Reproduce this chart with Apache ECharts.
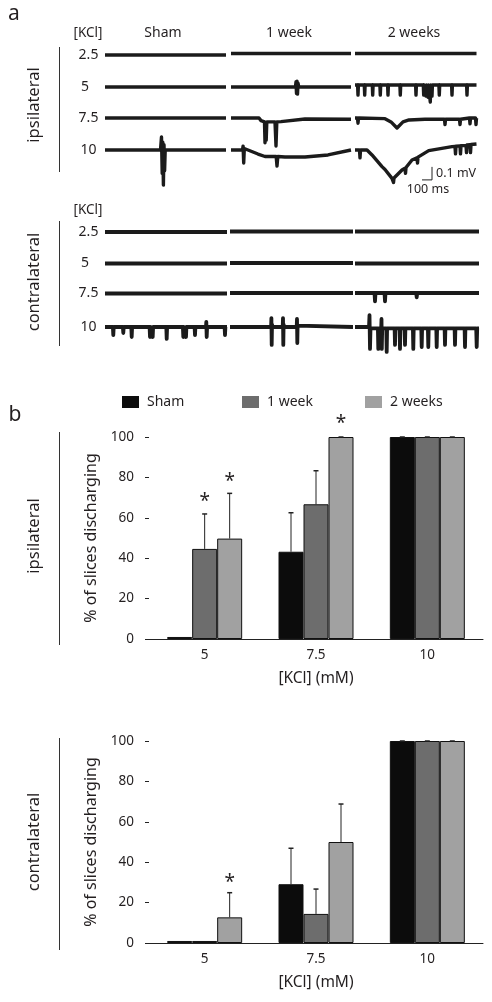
<!DOCTYPE html>
<html><head><meta charset="utf-8">
<script src="https://cdn.jsdelivr.net/npm/echarts@6/dist/echarts.min.js"></script>
<style>html,body{margin:0;padding:0;background:#fff}#c{width:492px;height:1002px}</style>
</head><body><div id="c"></div><script>
// ---------- DATA ----------
const groups = ['Sham', '1 week', '2 weeks'];
const kclRows = ['2.5', '5', '7.5', '10'];
const kclBars = ['5', '7.5', '10'];

// panel b: % of slices discharging (mean) and upper error (SEM)
const ipsiSham = [1, 43.2, 100];
const ipsiShamErr = [null, 19.3, 0];
const ipsi1wk = [44.6, 66.7, 100];
const ipsi1wkErr = [17.3, 16.6, 0];
const ipsi2wk = [49.7, 100, 100];
const ipsi2wkErr = [22.4, 0, 0];
const contraSham = [1, 29.1, 100];
const contraShamErr = [null, 17.8, 0];
const contra1wk = [1, 14.4, 100];
const contra1wkErr = [null, 12.3, 0];
const contra2wk = [12.7, 50, 100];
const contra2wkErr = [12.2, 18.8, 0];
// significance marks: [category index, group index, y position in %]
const ipsiStars = [[0, 1, 70], [0, 2, 80], [1, 2, 108.5]];
const contraStars = [[0, 2, 31.7]];

// panel a: traces, [time ms, potential mV]
const ipsiSham25 = [[0, 0], [1210, 0]];
const ipsiSham5 = [[0, 0], [1210, 0]];
const ipsiSham75 = [[0, 0], [1210, 0]];
const ipsiSham10 = [[0, 0], [555, 0], [565, 0.1], [572, -0.18], [578, 0.06], [584, -0.27], [590, 0.04], [596, -0.16], [602, 0], [1210, 0]];
const ipsi1wk25 = [[0, 0.012], [1200, 0.012]];
const ipsi1wk5 = [[0, 0], [645, 0], [650, 0.04], [655, -0.05], [660, 0.045], [665, -0.055], [670, 0.03], [678, 0], [1200, 0]];
const ipsi1wk75 = [[0, 0], [280, 0], [300, -0.02], [335, -0.03], [340, -0.19], [346, -0.04], [352, -0.17], [358, -0.03], [440, -0.03], [450, -0.215], [458, -0.03], [500, -0.028], [740, -0.008], [1200, -0.01]];
const ipsi1wk10 = [[0, 0], [115, 0], [121, 0.03], [127, -0.1], [133, 0.01], [170, 0], [270, -0.031], [340, -0.05], [452, -0.05], [460, -0.123], [468, -0.05], [540, -0.054], [740, -0.054], [970, -0.038], [1200, 0]];
const ipsi2wk25 = [[0, 0.012], [1215, 0.012]];
const ipsi2wk5 = [[0, 0.015], [26, 0.015], [30, -0.062], [34, 0.015], [93, 0.015], [97, -0.062], [101, 0.015], [173, 0.015], [177, -0.062], [181, 0.015],
  [249, 0.015], [253, -0.062], [257, 0.015], [326, 0.015], [330, -0.062], [334, 0.015], [449, 0.015], [453, -0.062], [457, 0.015],
  [606, 0.015], [610, -0.062], [614, 0.015], [683, 0.015], [687, -0.062], [691, 0.015], [706, 0.015], [710, -0.07], [714, 0.015],
  [726, 0.015], [730, -0.08], [734, 0.015], [749, 0.015], [753, -0.115], [757, 0.015], [766, 0.015], [770, -0.07], [774, 0.015],
  [839, 0.015], [843, -0.062], [847, 0.015], [966, 0.015], [970, -0.062], [974, 0.015], [1116, 0.015], [1120, -0.062], [1124, 0.015], [1215, 0.015]];
const ipsi2wk75 = [[0, 0], [25, 0], [30, -0.04], [35, 0], [300, -0.005], [360, -0.03], [420, -0.077], [480, -0.03], [540, -0.015], [700, -0.01],
  [895, -0.01], [900, -0.05], [905, -0.01], [1045, -0.01], [1050, -0.05], [1055, -0.01], [1145, 0], [1150, -0.045], [1155, 0], [1205, 0], [1210, -0.05], [1215, 0]];
const ipsi2wk10 = [[0, 0], [45, 0], [50, -0.06], [55, 0], [120, 0], [170, -0.038], [270, -0.128], [300, -0.15], [305, -0.14], [370, -0.218],
  [385, -0.25], [390, -0.215], [400, -0.205], [470, -0.154], [500, -0.14], [505, -0.18], [510, -0.135], [570, -0.077], [620, -0.06],
  [625, -0.1], [630, -0.055], [737, -0.005], [970, 0.026], [1000, 0.028], [1005, -0.03], [1010, 0.03], [1050, 0.032], [1055, -0.03],
  [1060, 0.033], [1110, 0.036], [1115, -0.02], [1120, 0.038], [1150, 0.04], [1155, -0.02], [1160, 0.042], [1215, 0.046]];

const contraSham25 = [[0, 0], [1220, 0]];
const contraSham5 = [[0, 0], [1220, 0]];
const contraSham75 = [[0, 0], [1220, 0]];
const contraSham10 = [[0, 0], [79, 0], [83, -0.062], [87, 0], [179, 0], [183, -0.046], [187, 0], [263, 0], [267, -0.077], [271, 0],
  [446, 0], [450, -0.077], [454, 0], [473, 0], [477, -0.077], [481, 0], [613, 0], [617, -0.092], [621, 0], [779, 0], [783, -0.077], [787, 0],
  [806, 0], [810, -0.077], [814, 0], [896, 0], [900, -0.062], [904, 0], [1010, 0], [1013, 0.04], [1017, -0.077], [1021, 0],
  [1196, 0], [1200, -0.062], [1204, 0], [1220, 0]];
const contra1wk25 = [[0, 0.004], [1230, 0.004]];
const contra1wk5 = [[0, 0.004], [1230, 0.004]];
const contra1wk75 = [[0, 0.004], [1230, 0.004]];
const contra1wk10 = [[0, 0], [411, 0], [414, 0.069], [417, -0.138], [420, 0.02], [424, 0], [527, 0], [530, 0.069], [533, -0.138], [536, 0.02], [540, 0],
  [667, 0], [670, 0.062], [673, -0.123], [676, 0.01], [680, 0], [1230, 0]];
const contra2wk25 = [[0, 0.004], [1240, 0.004]];
const contra2wk5 = [[0, 0], [1240, 0]];
const contra2wk75 = [[0, 0.004], [195, 0.004], [200, -0.06], [205, 0.004], [295, 0.004], [300, -0.06], [305, 0.004], [612, 0.004], [617, -0.03], [622, 0.004], [1240, 0.004]];
const contra2wk10 = [[0, 0], [140, 0], [145, 0.092], [150, -0.169], [155, -0.01], [229, -0.01], [233, -0.169], [237, -0.01], [262, -0.01], [265, 0.062],
  [268, -0.169], [272, -0.01], [313, -0.01], [317, -0.192], [321, -0.01], [396, -0.01], [400, -0.138], [404, -0.01], [446, -0.01], [450, -0.169], [454, -0.01],
  [496, -0.01], [500, -0.138], [504, -0.01], [579, -0.01], [583, -0.169], [587, -0.01], [663, -0.01], [667, -0.154], [671, -0.01],
  [729, -0.01], [733, -0.154], [737, -0.01], [813, -0.01], [817, -0.154], [821, -0.01], [896, -0.01], [900, -0.138], [904, -0.01],
  [996, -0.01], [1000, -0.138], [1004, -0.01], [1096, -0.01], [1100, -0.154], [1104, -0.01], [1212, -0.01], [1217, -0.154], [1222, -0.01], [1240, -0.01]];

// ---------- LAYOUT / STYLE ----------
const FONT = '"Noto Sans", "Open Sans", sans-serif';
const TXT = '#231f20';
const barColors = ['#0c0c0c', '#6d6d6d', '#a1a1a1'];
const BARW = 25;
const mvPerPx = 0.1 / 13;   // 0.1 mV scale bar = 13 px
const msPerPx = 10;         // 100 ms scale bar = 10 px
const halfPx = 40;

const traceLayout = [
  { base: [55, 87, 118, 150], cols: [105, 231, 355], traces: [
    [ipsiSham25, ipsiSham5, ipsiSham75, ipsiSham10],
    [ipsi1wk25, ipsi1wk5, ipsi1wk75, ipsi1wk10],
    [ipsi2wk25, ipsi2wk5, ipsi2wk75, ipsi2wk10]], lw: 3.4 },
  { base: [232, 263.5, 293.5, 327], cols: [105, 230, 355], traces: [
    [contraSham25, contraSham5, contraSham75, contraSham10],
    [contra1wk25, contra1wk5, contra1wk75, contra1wk10],
    [contra2wk25, contra2wk5, contra2wk75, contra2wk10]], lw: 3.8 }
];

const grid = [], xAxis = [], yAxis = [], series = [];
let gi = 0;
let scaleGridIndex = -1;
traceLayout.forEach((panel, pi) => {
  panel.traces.forEach((colTraces, ci) => {
    colTraces.forEach((tr, ri) => {
      const xmax = 1250;
      grid.push({ left: panel.cols[ci], top: panel.base[ri] - halfPx, width: xmax / msPerPx, height: 2 * halfPx });
      xAxis.push({ type: 'value', gridIndex: gi, min: 0, max: xmax, show: false });
      yAxis.push({ type: 'value', gridIndex: gi, min: -halfPx * mvPerPx, max: halfPx * mvPerPx, show: false });
      series.push({ type: 'line', xAxisIndex: gi, yAxisIndex: gi, data: tr, showSymbol: false, symbol: 'none', silent: true,
        clip: false, lineStyle: { color: '#1b1b1b', width: panel.lw, join: 'round' }, animation: false });
      if (pi === 0 && ci === 2 && ri === 3) scaleGridIndex = gi;
      gi++;
    });
  });
});
// scale bar: 100 ms x 0.1 mV
const scaleAnchor = [770, -0.23];
series.push({ type: 'line', xAxisIndex: scaleGridIndex, yAxisIndex: scaleGridIndex, showSymbol: false, symbol: 'none', silent: true, clip: false,
  animation: false, lineStyle: { color: '#222', width: 1 },
  data: [[scaleAnchor[0] - 100, scaleAnchor[1]], scaleAnchor, [scaleAnchor[0], scaleAnchor[1] + 0.1]] });

// bar panels
const barPanels = [
  { top: 437, means: [ipsiSham, ipsi1wk, ipsi2wk], errs: [ipsiShamErr, ipsi1wkErr, ipsi2wkErr], stars: ipsiStars },
  { top: 741, means: [contraSham, contra1wk, contra2wk], errs: [contraShamErr, contra1wkErr, contra2wkErr], stars: contraStars }
];
barPanels.forEach((bp, k) => {
  grid.push({ left: 149, top: bp.top, width: 334, height: 202 });
  xAxis.push({ type: 'category', gridIndex: gi, data: kclBars,
    axisLine: { show: true, lineStyle: { color: '#222', width: 1 } }, axisTick: { show: false },
    axisLabel: { color: TXT, fontSize: 13.5, fontFamily: FONT, margin: 9 },
    name: '[KCl] (mM)', nameLocation: 'middle', nameGap: 32,
    nameTextStyle: { color: TXT, fontSize: 15.5, fontFamily: FONT } });
  yAxis.push({ type: 'value', gridIndex: gi, min: 0, max: 100, interval: 20,
    axisLine: { show: false }, axisTick: { show: true, length: 4, lineStyle: { color: '#222' } },
    splitLine: { show: false },
    axisLabel: { color: TXT, fontSize: 13.5, fontFamily: FONT, margin: 15 },
    name: '% of slices discharging', nameLocation: 'middle', nameGap: 50, nameRotate: 90,
    nameTextStyle: { color: TXT, fontSize: 16, fontFamily: FONT } });
  bp.means.forEach((m, g) => {
    series.push({ type: 'bar', name: groups[g], xAxisIndex: gi, yAxisIndex: gi, data: m, barWidth: BARW, barGap: '0%',
      itemStyle: { color: barColors[g], borderColor: '#111', borderWidth: 1 }, animation: false, silent: true });
  });
  bp.means.forEach((m, g) => {
    const d = [];
    m.forEach((v, i) => { if (bp.errs[g][i] !== null) d.push([i, v, bp.errs[g][i]]); });
    const off = (g - 1) * BARW;
    series.push({ type: 'custom', xAxisIndex: gi, yAxisIndex: gi, data: d, animation: false, silent: true, z: 5,
      encode: { x: 0, y: 1 },
      renderItem: (params, api) => {
        const p0 = api.coord([api.value(0), api.value(1)]);
        const p1 = api.coord([api.value(0), api.value(1) + api.value(2)]);
        const x = p0[0] + off;
        return { type: 'group', children: [
          { type: 'line', shape: { x1: x, y1: p0[1], x2: x, y2: p1[1] }, style: { stroke: '#222', lineWidth: 1 } },
          { type: 'line', shape: { x1: x - 2.5, y1: p1[1], x2: x + 2.5, y2: p1[1] }, style: { stroke: '#222', lineWidth: 1.5 } }
        ] };
      } });
  });
  series.push({ type: 'custom', xAxisIndex: gi, yAxisIndex: gi, data: bp.stars, animation: false, silent: true, z: 6,
    encode: { x: 0, y: 2 },
    renderItem: (params, api) => {
      const p = api.coord([api.value(0), api.value(2)]);
      const x = p[0] + (api.value(1) - 1) * BARW;
      return { type: 'text', x: x, y: p[1] + 4, style: { text: '*', fontSize: 19, fontFamily: FONT, fill: TXT, align: 'center', verticalAlign: 'middle' } };
    } });
  gi++;
});

// graphic text / decorations
const g = [];
function txt(text, x, y, size, opts, align) {
  g.push(Object.assign({ type: 'text', x: x, y: y, silent: true,
    style: { text: text, fontSize: size, fontFamily: FONT, fill: TXT, align: align || 'center', verticalAlign: 'middle' } }, opts || {}));
}
function vline(x, y1, y2) {
  g.push({ type: 'line', silent: true, shape: { x1: x, y1: y1, x2: x, y2: y2 }, style: { stroke: '#333', lineWidth: 1 } });
}
txt('a', 14, 14, 21);
txt('b', 15, 415, 21);
txt('[KCl]', 88, 33, 13.5);
txt('Sham', 163, 33, 14);
txt('1 week', 289, 33, 14);
txt('2 weeks', 414, 33, 14);
txt('[KCl]', 88, 210, 13.5);
traceLayout.forEach(panel => {
  kclRows.forEach((r, i) => txt(r, r === '5' ? 85 : 88.5, panel.base[i], 14));
});
txt('ipsilateral', 34, 105, 16.5, { rotation: Math.PI / 2 });
txt('contralateral', 34, 282, 16.5, { rotation: Math.PI / 2 });
txt('ipsilateral', 34, 536, 16.5, { rotation: Math.PI / 2 });
txt('contralateral', 34, 842, 16.5, { rotation: Math.PI / 2 });
vline(59.5, 47, 172);
vline(59.5, 221, 346);
vline(59.5, 432, 645);
vline(59.5, 738, 950);
txt('0.1 mV', 436, 173, 12.5, {}, 'left');
txt('100 ms', 428, 189, 12.5);

const legend = groups.map((name, i) => ({
  data: [name], left: [122, 242, 365][i], top: 395, padding: 0, itemWidth: 17, itemHeight: 12, itemGap: 0,
  icon: 'rect', itemStyle: { borderWidth: 0 },
  textStyle: { color: TXT, fontSize: 14, fontFamily: FONT, padding: [0, 0, 0, 3] }, selectedMode: false
}));

const chart = echarts.init(document.getElementById('c'), null, { renderer: 'canvas' });
chart.setOption({ animation: false, backgroundColor: '#fff', grid, xAxis, yAxis, series, legend, graphic: g });
</script></body></html>
